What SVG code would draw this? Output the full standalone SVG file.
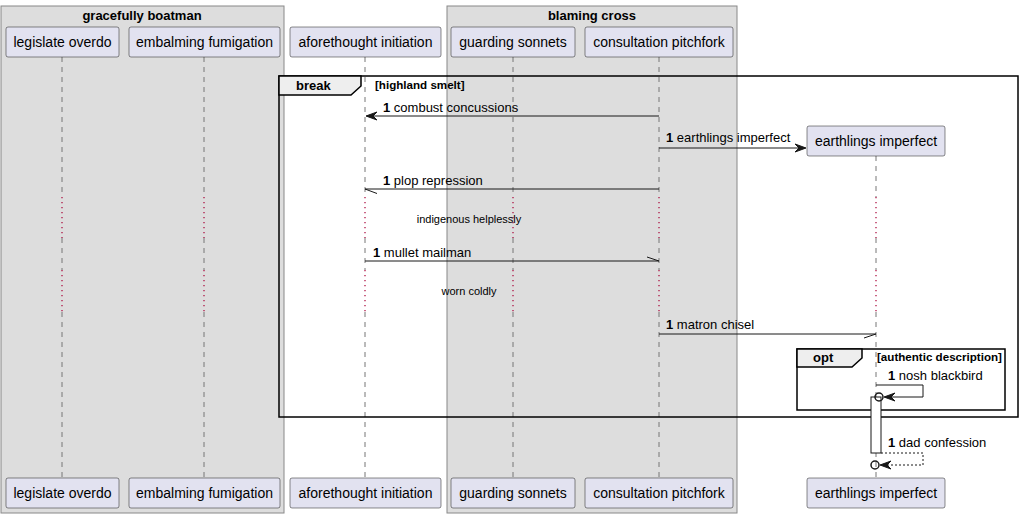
<svg xmlns="http://www.w3.org/2000/svg" width="1022" height="518" viewBox="0 0 1022 518">
<style>
text{font-family:"Liberation Sans",Arial,sans-serif;fill:#000}
.grp{fill:#DDDDDD;stroke:#888888;stroke-width:1}
.gt{font-size:13px;font-weight:bold;text-anchor:middle}
.p rect{fill:#E2E2F0;stroke:#181818;stroke-width:0.5}
.p text{font-size:14px;text-anchor:middle}
.ll{stroke:#777;stroke-width:1;stroke-dasharray:5,5;fill:none}
.dl{stroke:#A80036;stroke-width:1.2;stroke-dasharray:1.2,3.8;fill:none}
.msg{stroke:#181818;stroke-width:1;fill:none}
.dash{stroke-dasharray:2,2}
.ah{fill:#181818;stroke:#181818;stroke-width:1}
.mt{font-size:13px}
.b{font-weight:bold}
.frame{fill:none;stroke:#000;stroke-width:1.5}
.tab{fill:#EEEEEE;stroke:#000;stroke-width:1.5}
.ft{font-size:13px;font-weight:bold}
.guard{font-size:11.6px;font-weight:bold}
.dt{font-size:11px;text-anchor:middle}
</style>

<g id="box-gracefully-boatman">
<rect class="grp" x="1" y="6" width="283" height="507"/>
<text class="gt" x="142" y="20">gracefully boatman</text>
</g>
<g id="box-blaming-cross">
<rect class="grp" x="447" y="6" width="290" height="507"/>
<text class="gt" x="592" y="20">blaming cross</text>
</g>

<g id="lifelines">
<path class="ll" d="M62,57V197M62,238V270M62,312V478"/>
<path class="dl" d="M62,197V238M62,270V312"/>
<path class="ll" d="M204,57V197M204,238V270M204,312V478"/>
<path class="dl" d="M204,197V238M204,270V312"/>
<path class="ll" d="M365,57V197M365,238V270M365,312V478"/>
<path class="dl" d="M365,197V238M365,270V312"/>
<path class="ll" d="M513,57V197M513,238V270M513,312V478"/>
<path class="dl" d="M513,197V238M513,270V312"/>
<path class="ll" d="M659,57V197M659,238V270M659,312V478"/>
<path class="dl" d="M659,197V238M659,270V312"/>
<path class="ll" d="M876,156V197M876,238V270M876,312V478"/>
<path class="dl" d="M876,197V238M876,270V312"/>
</g>

<g id="frame-break">
<rect class="frame" x="279" y="76" width="739" height="341"/>
<path class="tab" d="M279,76H361V86L351,95H279Z"/>
<text class="ft" x="296" y="90">break</text>
<text class="guard" x="375" y="89">[highland smelt]</text>
</g>

<g id="frame-opt">
<rect class="frame" x="797" y="349" width="208" height="61"/>
<path class="tab" d="M797,349H862V358L852,367H797Z"/>
<text class="ft" x="813" y="362">opt</text>
<text class="guard" x="877" y="361">[authentic description]</text>
</g>

<g id="p-legislate-overdo" class="p">
<rect x="6" y="27" width="113" height="30" rx="2"/><text x="62.5" y="47">legislate overdo</text>
<rect x="6" y="478" width="113" height="30" rx="2"/><text x="62.5" y="498">legislate overdo</text>
</g>
<g id="p-embalming-fumigation" class="p">
<rect x="129" y="27" width="151" height="30" rx="2"/><text x="204.5" y="47">embalming fumigation</text>
<rect x="129" y="478" width="151" height="30" rx="2"/><text x="204.5" y="498">embalming fumigation</text>
</g>
<g id="p-aforethought-initiation" class="p">
<rect x="290" y="27" width="151" height="30" rx="2"/><text x="365.5" y="47">aforethought initiation</text>
<rect x="290" y="478" width="151" height="30" rx="2"/><text x="365.5" y="498">aforethought initiation</text>
</g>
<g id="p-guarding-sonnets" class="p">
<rect x="451" y="27" width="124" height="30" rx="2"/><text x="513" y="47">guarding sonnets</text>
<rect x="451" y="478" width="124" height="30" rx="2"/><text x="513" y="498">guarding sonnets</text>
</g>
<g id="p-consultation-pitchfork" class="p">
<rect x="585" y="27" width="148" height="30" rx="2"/><text x="659" y="47">consultation pitchfork</text>
<rect x="585" y="478" width="148" height="30" rx="2"/><text x="659" y="498">consultation pitchfork</text>
</g>
<g id="p-earthlings-imperfect" class="p">
<rect x="807" y="126" width="138" height="30" rx="2"/><text x="876" y="146">earthlings imperfect</text>
<rect x="807" y="478" width="138" height="30" rx="2"/><text x="876" y="498">earthlings imperfect</text>
</g>

<g id="activation">
<rect x="871" y="397" width="10" height="56" fill="#FFFFFF" stroke="#181818" stroke-width="1"/>
</g>

<g id="connectors">
<line class="msg" x1="659" y1="116" x2="367" y2="116"/>
<path class="ah" d="M366,116L377,112L373,116L377,120Z"/>
<text class="mt" x="383" y="112"><tspan class="b">1</tspan> combust concussions</text>
<line class="msg" x1="659" y1="148" x2="805" y2="148"/>
<path class="ah" d="M806,148L795,144L799,148L795,152Z"/>
<text class="mt" x="666" y="142"><tspan class="b">1</tspan> earthlings imperfect</text>
<line class="msg" x1="659" y1="189" x2="365" y2="189"/>
<line class="msg" x1="365" y1="189" x2="377" y2="193.5"/>
<text class="mt" x="383" y="185"><tspan class="b">1</tspan> plop repression</text>
<text class="dt" x="469" y="223">indigenous helplessly</text>
<line class="msg" x1="365" y1="261" x2="659" y2="261"/>
<line class="msg" x1="647" y1="257" x2="659" y2="261"/>
<text class="mt" x="373" y="257"><tspan class="b">1</tspan> mullet mailman</text>
<text class="dt" x="469" y="295">worn coldly</text>
<line class="msg" x1="659" y1="334" x2="876" y2="334"/>
<line class="msg" x1="864" y1="338" x2="876" y2="334"/>
<text class="mt" x="666" y="329"><tspan class="b">1</tspan> matron chisel</text>
<path class="msg" d="M876,385H923V397H885"/>
<path class="ah" d="M884,397L895,393L891,397L895,401Z"/>
<circle cx="879" cy="397" r="4" fill="none" stroke="#181818" stroke-width="1.5"/>
<text class="mt" x="888" y="380"><tspan class="b">1</tspan> nosh blackbird</text>
<path class="msg dash" d="M881,453H923V465H881"/>
<path class="ah" d="M880,465L891,461L887,465L891,469Z"/>
<circle cx="875" cy="465" r="4" fill="none" stroke="#181818" stroke-width="1.5"/>
<text class="mt" x="888" y="447"><tspan class="b">1</tspan> dad confession</text>
</g>
</svg>
